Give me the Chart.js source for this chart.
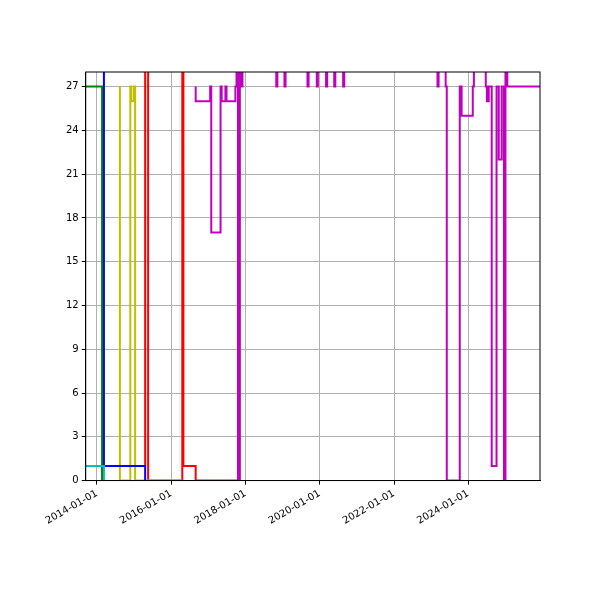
<!DOCTYPE html>
<html><head><meta charset="utf-8">
<script src="https://cdn.jsdelivr.net/npm/chart.js@4/dist/chart.umd.min.js"></script>
<style>body{margin:0;background:#fff}#wrap{width:600px;height:600px}</style>
</head><body><div id="wrap"><canvas id="c"></canvas></div>
<script>
// x values are fractional years, y values are the step levels
const cyanX = [2013.7, 2014.19, 2014.2];
const cyanY = [1, 1, 0];
const greenX = [2013.7, 2014.14, 2014.16];
const greenY = [27, 27, 0];
const blueX = [2014.19, 2014.62, 2015.3, 2015.32];
const blueY = [30, 1, 1, 0];
const yellowX = [2014.62, 2014.9, 2014.93, 2015.0, 2015.03, 2015.4, 2016.3];
const yellowY = [27, 0, 27, 26, 27, 0, 0];
const redX = [2015.3, 2015.38, 2016.3, 2016.33, 2016.66, 2017.78, 2017.8];
const redY = [1, 30, 0, 30, 1, 0, 0];
const magX = [2016.66, 2017.05, 2017.08, 2017.33, 2017.36, 2017.46, 2017.49, 2017.73, 2017.76,
  2017.8, 2017.85, 2017.88, 2017.92, 2018.83, 2018.86, 2019.05, 2019.08, 2019.67, 2019.7,
  2019.92, 2019.95, 2020.17, 2020.2, 2020.39, 2020.42, 2020.63, 2020.66, 2023.17, 2023.2,
  2023.39, 2023.42, 2023.77, 2023.82, 2024.12, 2024.15, 2024.47, 2024.5, 2024.55, 2024.63,
  2024.76, 2024.82, 2024.9, 2024.96, 2025.0, 2025.05, 2025.1, 2025.25, 2025.95];
const magY = [27, 26, 27, 17, 27, 26, 27, 26, 27,
  30, 0, 30, 27, 30, 27, 30, 27, 30, 27,
  30, 27, 30, 27, 30, 27, 30, 27, 30, 27,
  30, 27, 0, 27, 25, 27, 30, 27, 26, 27,
  1, 27, 22, 27, 0, 30, 27, 27, 27];
const yTicks = [0, 3, 6, 9, 12, 15, 18, 21, 24, 27];
const xTicks = [2014, 2016, 2018, 2020, 2022, 2024];

const pts = (xs, ys) => xs.map((x, i) => ({x: x, y: ys[i]}));
const ds = (xs, ys, color) => ({data: pts(xs, ys), borderColor: color, borderWidth: 2,
  stepped: 'after', pointRadius: 0, fill: false});

new Chart(document.getElementById('c'), {
  type: 'line',
  data: {datasets: [
    ds(cyanX, cyanY, 'rgb(0,191,191)'),
    ds(greenX, greenY, 'rgb(0,128,0)'),
    ds(blueX, blueY, 'rgb(0,0,255)'),
    ds(yellowX, yellowY, 'rgb(191,191,0)'),
    ds(redX, redY, 'rgb(255,0,0)'),
    ds(magX, magY, 'rgb(191,0,191)')
  ]},
  options: {
    responsive: true, maintainAspectRatio: false, animation: false,
    layout: {padding: {left: 63, right: 60, top: 72, bottom: 70}},
    plugins: {legend: {display: false}, tooltip: {enabled: false}},
    scales: {
      x: {type: 'linear', min: 2013.7, max: 2025.93,
        afterBuildTicks: ax => { ax.ticks = xTicks.map(v => ({value: v})); },
        ticks: {color: '#000', font: {family: 'DejaVu Sans', size: 10}, minRotation: 30, maxRotation: 30,
          callback: v => v + '-01-01'},
        grid: {color: '#b0b0b0', tickColor: '#000', tickLength: 4},
        border: {color: '#000'}},
      y: {min: 0, max: 28,
        afterBuildTicks: ax => { ax.ticks = yTicks.map(v => ({value: v})); },
        ticks: {color: '#000', font: {family: 'DejaVu Sans', size: 10}},
        grid: {color: '#b0b0b0', tickColor: '#000', tickLength: 4},
        border: {color: '#000'}}
    }
  },
  plugins: [{id: 'frame', afterDraw(c) {
    const a = c.chartArea, g = c.ctx;
    g.save(); g.strokeStyle = '#000'; g.lineWidth = 1;
    g.strokeRect(a.left, a.top, a.right - a.left, a.bottom - a.top); g.restore();
  }}]
});
</script></body></html>
